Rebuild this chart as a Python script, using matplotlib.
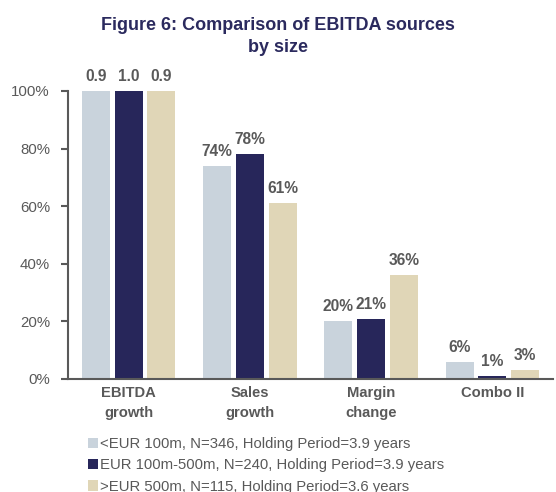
import matplotlib
matplotlib.use("Agg")
import matplotlib.pyplot as plt
from matplotlib.patches import Patch
import numpy as np

categories = ["EBITDA\ngrowth", "Sales\ngrowth", "Margin\nchange", "Combo II"]
series_names = [
    "<EUR 100m, N=346, Holding Period=3.9 years",
    "EUR 100m-500m, N=240, Holding Period=3.9 years",
    ">EUR 500m, N=115, Holding Period=3.6 years",
]
small_vals = [1.00, 0.74, 0.20, 0.06]
mid_vals = [1.00, 0.78, 0.21, 0.01]
large_vals = [1.00, 0.61, 0.36, 0.03]
small_labels = ["0.9", "74%", "20%", "6%"]
mid_labels = ["1.0", "78%", "21%", "1%"]
large_labels = ["0.9", "61%", "36%", "3%"]
yticks = [0, 0.2, 0.4, 0.6, 0.8, 1.0]
ytick_labels = ["0%", "20%", "40%", "60%", "80%", "100%"]

colors = ["#C9D3DC", "#27265A", "#E0D6B7"]
grey = "#595959"
navy = "#2B2A5E"

plt.rcParams["font.family"] = ["Liberation Sans", "DejaVu Sans"]

fig = plt.figure(figsize=(5.56, 4.92), dpi=100)
ax = fig.add_axes([68 / 556, 1 - 379 / 492, (553 - 68) / 556, (379 - 91) / 492])

x = np.arange(len(categories))
width = 0.23
offsets = [-0.27, 0.0, 0.27]
all_vals = [small_vals, mid_vals, large_vals]
all_labels = [small_labels, mid_labels, large_labels]
for vals, labs, off, c in zip(all_vals, all_labels, offsets, colors):
    bars = ax.bar(x + off, vals, width, color=c)
    for b, lab in zip(bars, labs):
        ax.annotate(lab, (b.get_x() + b.get_width() / 2, b.get_height()),
                    xytext=(0, 5), textcoords="offset points",
                    ha="center", va="bottom", fontsize=11.2,
                    fontweight="bold", color=grey)

ax.set_xlim(-0.5, 3.5)
ax.set_ylim(0, 1.0)
ax.set_yticks(yticks)
ax.set_yticklabels(ytick_labels, fontsize=10.8, color=grey)
ax.set_xticks(x)
ax.set_xticklabels(categories, fontsize=10.6, fontweight="bold", color=grey,
                   linespacing=1.55)
ax.tick_params(axis="x", length=0, pad=5)
ax.tick_params(axis="y", length=5, width=1.5, color=grey, pad=8, direction="out")
for s in ["top", "right"]:
    ax.spines[s].set_visible(False)
for s in ["left", "bottom"]:
    ax.spines[s].set_color(grey)
    ax.spines[s].set_linewidth(1.5)
ax.spines["left"].set_bounds(0, 1.0)

fig.text(0.5, 1 - 36.5 / 492, "Figure 6: Comparison of EBITDA sources\nby size",
         ha="center", va="center", fontsize=13, fontweight="bold", color=navy,
         linespacing=1.33)

handles = [Patch(facecolor=c, edgecolor="none") for c in colors]
fig.legend(handles, series_names, loc="upper left",
           bbox_to_anchor=(82 / 556, 1 - 431 / 492), frameon=False,
           fontsize=10.7, handlelength=0.7, handleheight=0.7,
           handletextpad=0.1, labelspacing=0.5, borderaxespad=0,
           labelcolor=grey)

fig.savefig("out.png", dpi=100)
